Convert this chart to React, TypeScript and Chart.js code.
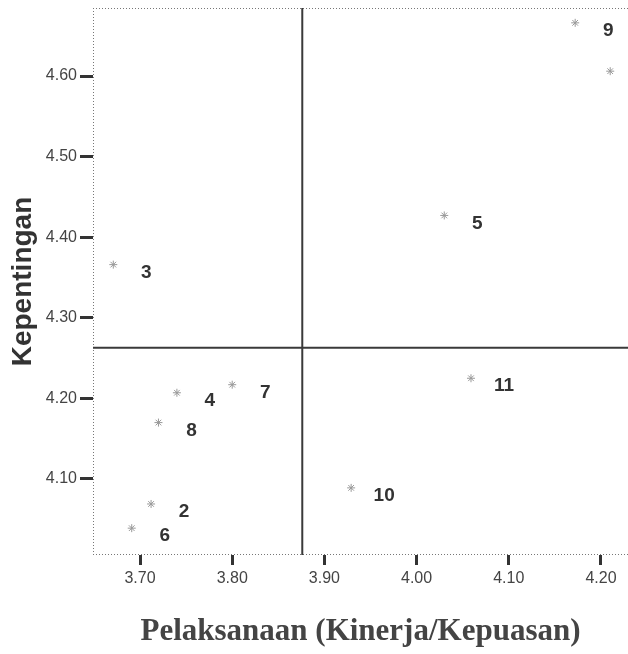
import React, { useEffect, useRef } from 'react';
import { Chart, registerables } from 'chart.js';

Chart.register(...registerables);

// Attribute numbers (labels) and their coordinates
const pointLabels = ['1', '2', '3', '4', '5', '6', '7', '8', '9', '10', '11'];
const pelaksanaan = [4.210, 3.712, 3.671, 3.740, 4.030, 3.691, 3.800, 3.720, 4.172, 3.929, 4.059];
const kepentingan = [4.606, 4.069, 4.366, 4.207, 4.427, 4.039, 4.217, 4.170, 4.666, 4.089, 4.225];

// Quadrant divider positions (means)
const meanPelaksanaan = 3.876;
const meanKepentingan = 4.263;

// Axis ranges and ticks
const xMin = 3.649;
const xMax = 4.2293;
const yMin = 4.0057;
const yMax = 4.6844;
const xTicks = [3.7, 3.8, 3.9, 4.0, 4.1, 4.2];
const yTicks = [4.1, 4.2, 4.3, 4.4, 4.5, 4.6];

const xTitle = 'Pelaksanaan (Kinerja/Kepuasan)';
const yTitle = 'Kepentingan';

const labelPlugin = {
  id: 'pointLabelsAndBorder',
  beforeDatasetsDraw(chart: any) {
    const { ctx, chartArea } = chart;
    ctx.save();
    ctx.strokeStyle = '#777';
    ctx.lineWidth = 1;
    ctx.setLineDash([1, 2]);
    ctx.beginPath();
    ctx.moveTo(chartArea.left, chartArea.top + 0.5);
    ctx.lineTo(chartArea.right, chartArea.top + 0.5);
    ctx.moveTo(chartArea.left + 0.5, chartArea.top);
    ctx.lineTo(chartArea.left + 0.5, chartArea.bottom);
    ctx.moveTo(chartArea.left, chartArea.bottom - 0.5);
    ctx.lineTo(chartArea.right, chartArea.bottom - 0.5);
    ctx.stroke();
    ctx.restore();
  },
  afterDatasetsDraw(chart: any) {
    const { ctx, chartArea } = chart;
    const meta = chart.getDatasetMeta(0);
    ctx.save();
    ctx.beginPath();
    ctx.rect(chartArea.left, chartArea.top, chartArea.right - chartArea.left, chartArea.bottom - chartArea.top);
    ctx.clip();
    ctx.font = 'bold 19px "Liberation Sans", Arial, sans-serif';
    ctx.fillStyle = '#333';
    ctx.textAlign = 'center';
    ctx.textBaseline = 'middle';
    meta.data.forEach((el: any, i: number) => {
      ctx.fillText(pointLabels[i], el.x + 33, el.y + 8);
    });
    ctx.restore();
  },
};

export default function App() {
  const ref = useRef<HTMLCanvasElement | null>(null);

  useEffect(() => {
    document.body.style.margin = '0';
    document.body.style.overflow = 'hidden';
    const canvas = ref.current;
    if (!canvas) return;

    const points = pelaksanaan.map((x, i) => ({ x, y: kepentingan[i] }));

    const chart = new Chart(canvas, {
      type: 'scatter',
      data: {
        datasets: [
          {
            label: 'Atribut',
            data: points,
            pointStyle: 'star',
            pointRadius: 4,
            borderColor: '#999',
            backgroundColor: 'rgba(0,0,0,0)',
            borderWidth: 1,
          },
          {
            label: 'vline',
            data: [
              { x: meanPelaksanaan, y: yMin },
              { x: meanPelaksanaan, y: yMax },
            ],
            showLine: true,
            pointRadius: 0,
            borderColor: '#3a3a3a',
            borderWidth: 2,
          },
          {
            label: 'hline',
            data: [
              { x: xMin, y: meanKepentingan },
              { x: xMax, y: meanKepentingan },
            ],
            showLine: true,
            pointRadius: 0,
            borderColor: '#3a3a3a',
            borderWidth: 2,
          },
        ],
      },
      options: {
        responsive: false,
        animation: false,
        layout: { autoPadding: false, padding: { top: 8, right: 0, bottom: 0, left: 0 } },
        plugins: {
          legend: { display: false },
          tooltip: { enabled: false },
        },
        scales: {
          x: {
            type: 'linear',
            min: xMin,
            max: xMax,
            afterBuildTicks: (s: any) => {
              s.ticks = xTicks.map((v) => ({ value: v }));
            },
            afterFit: (s: any) => {
              s.height = 99;
              s.paddingLeft = 0;
              s.paddingRight = 0;
            },
            grid: {
              drawOnChartArea: false,
              drawTicks: true,
              tickLength: 10,
              tickWidth: 3,
              tickColor: '#333',
              color: '#333',
            },
            border: { display: false },
            ticks: {
              padding: 4,
              color: '#444',
              font: { family: '"Liberation Sans", Arial, sans-serif', size: 16 },
              callback: (v: any) => Number(v).toFixed(2),
            },
            title: {
              display: true,
              text: xTitle,
              color: '#444',
              padding: { top: 0, bottom: 7 },
              font: { family: '"Liberation Serif", "Times New Roman", serif', size: 31, weight: 'bold', lineHeight: 1 },
            },
          },
          y: {
            type: 'linear',
            min: yMin,
            max: yMax,
            afterBuildTicks: (s: any) => {
              s.ticks = yTicks.map((v) => ({ value: v }));
            },
            afterFit: (s: any) => {
              s.width = 93;
              s.paddingTop = 0;
              s.paddingBottom = 0;
            },
            grid: {
              drawOnChartArea: false,
              drawTicks: true,
              tickLength: 13,
              tickWidth: 3,
              tickColor: '#333',
              color: '#333',
            },
            border: { display: false },
            ticks: {
              padding: 3,
              color: '#444',
              font: { family: '"Liberation Sans", Arial, sans-serif', size: 16 },
              callback: (v: any) => Number(v).toFixed(2),
            },
            title: {
              display: true,
              text: yTitle,
              color: '#333',
              padding: { top: 9, bottom: 0 },
              font: { family: '"Liberation Sans", Arial, sans-serif', size: 28, weight: 'bold', lineHeight: 1 },
            },
          },
        },
      },
      plugins: [labelPlugin],
    } as any);

    return () => {
      chart.destroy();
    };
  }, []);

  return (
    <div style={{ width: 628, height: 654, overflow: 'hidden' }}>
      <canvas ref={ref} width={628} height={654} style={{ display: 'block' }} />
    </div>
  );
}
